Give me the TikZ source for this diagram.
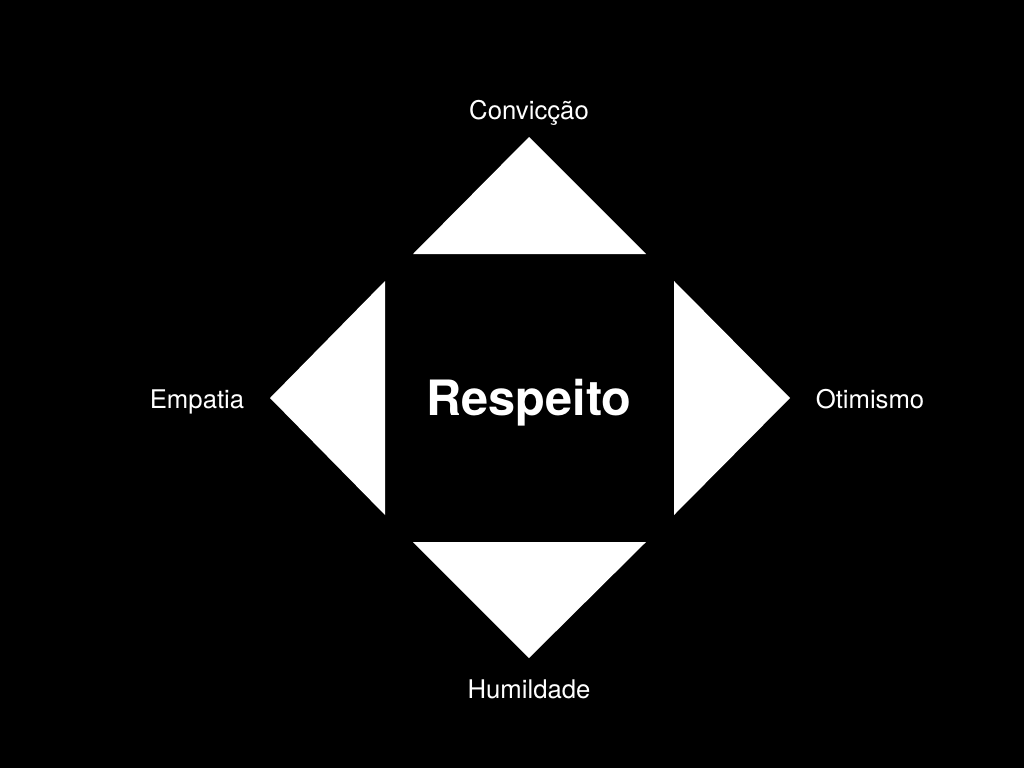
\documentclass[tikz,border=0pt]{standalone}
\usepackage{fontspec}
\setmainfont{TeX Gyre Heros}
\begin{document}
\begin{tikzpicture}[x=1pt,y=-1pt,
  tri/.style={fill=white,draw=none},
  lbl/.style={text=white,font=\fontsize{25.7}{28}\selectfont,inner sep=0pt},
  centre/.style={text=white,font=\fontsize{48.7}{52}\selectfont\bfseries,inner sep=0pt}]
\fill[black] (0,0) rectangle (1024,768);
\useasboundingbox (0,0) rectangle (1024,768);
% triangles
\fill[tri] (529,137) -- (646,254) -- (413,254) -- cycle;
\fill[tri] (413,542) -- (646,542) -- (529,658) -- cycle;
\fill[tri] (270,398) -- (385,281) -- (385,515) -- cycle;
\fill[tri] (674,281) -- (790,398) -- (674,515) -- cycle;
% labels
\node[lbl] (conv) at (529,113) {Convicção};
\node[lbl] (hum) at (529,689) {Humildade};
\node[lbl] (emp) at (197,402) {Empatia};
\node[lbl] (oti) at (870,399) {Otimismo};
\node[centre] (resp) at (529,403) {Respeito};
\end{tikzpicture}
\end{document}
